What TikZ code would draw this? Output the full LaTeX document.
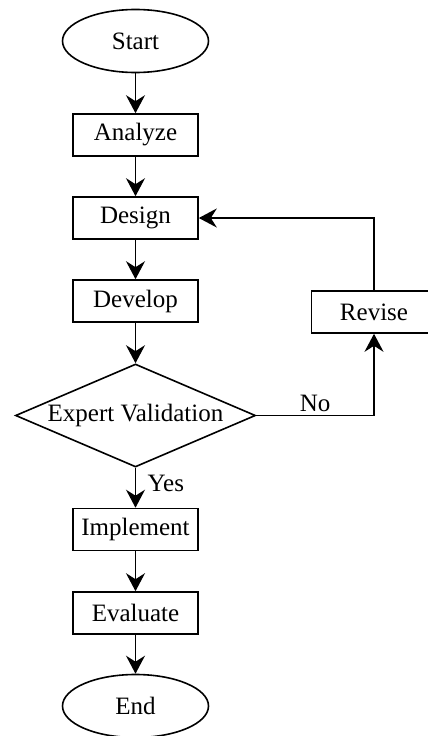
\documentclass[tikz,border=0pt]{standalone}
\usepackage{fontspec}
\setmainfont{Liberation Serif}
\usetikzlibrary{arrows.meta,shapes.geometric}

\begin{document}
\begin{tikzpicture}[x=1pt,y=-1pt,line width=1.6pt,
        font=\fontsize{25}{30}\selectfont,
        stepbox/.style={draw,rectangle,minimum width=125pt,minimum height=42pt,inner sep=2pt},
        term/.style={draw,ellipse,minimum width=146pt,minimum height=63pt,inner sep=0pt},
        check/.style={draw,diamond,aspect=2.33,minimum width=240pt,minimum height=103pt,inner sep=0pt},
        flow/.style={-{Stealth[length=18pt,width=19pt,inset=6pt]}}]
        \useasboundingbox (0,0) rectangle (428,736);
        \node[term](S)at(135.5,41){Start};
        \node[stepbox](A)at(135.5,135){Analyze};
        \node[stepbox](Ds)at(135.5,218){Design};
        \node[stepbox](Dv)at(135.5,301){Develop};
        \node[check](V)at(135.5,415.5){Expert Validation};
        \node[stepbox](R)at(374,312){Revise};
        \node[stepbox](I)at(135.5,529.5){Implement};
        \node[stepbox](Ev)at(135.5,613){Evaluate};
        \node[term](E)at(135.5,706){End};
        \draw[flow](S)--(A);
        \draw[flow](A)--(Ds);
        \draw[flow](Ds)--(Dv);
        \draw[flow](Dv)--(V);
        \draw[flow](V)--node[pos=0.38,right=8pt]{Yes}(I);
        \draw[flow](I)--(Ev);
        \draw[flow](Ev)--(E);
        \draw[flow](V.east)-|node[pos=0.25,above]{No}(R);
        \draw[flow](R)|-(Ds);
    \end{tikzpicture}
\end{document}
